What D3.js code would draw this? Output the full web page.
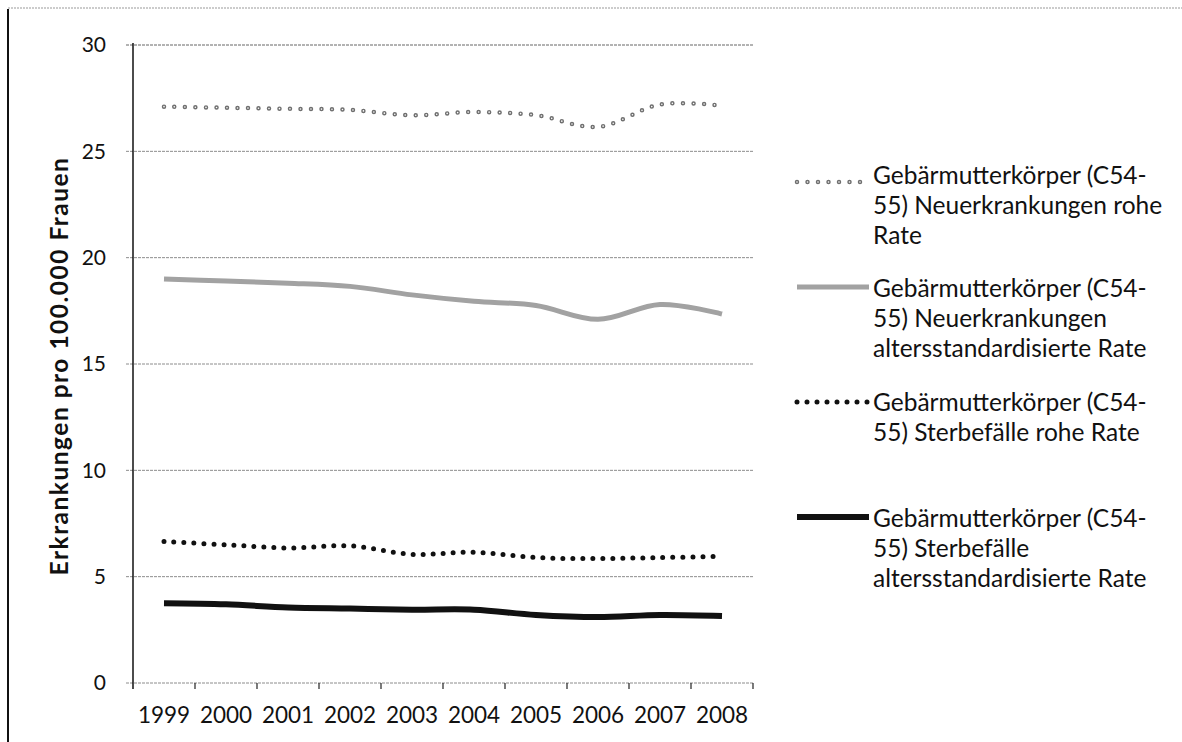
<!DOCTYPE html>
<html>
<head>
<meta charset="utf-8">
<script src="https://cdn.jsdelivr.net/npm/d3@7"></script>
<style>
  html, body { margin: 0; padding: 0; background: #fff; }
  svg { display: block; }
  text { font-family: Lato, "Open Sans", sans-serif; fill: #111; }
</style>
</head>
<body>
<svg id="chart" width="1182" height="742"></svg>
<script>
// Rates per 100,000 women, uterine body cancer (C54-55), 1999–2008
const years = ["1999", "2000", "2001", "2002", "2003", "2004", "2005", "2006", "2007", "2008"];
const neuRoh   = [27.1, 27.05, 27.0, 26.95, 26.7, 26.85, 26.7, 26.15, 27.2, 27.15];
const neuAltst = [19.0, 18.9, 18.8, 18.65, 18.25, 17.95, 17.75, 17.1, 17.8, 17.35];
const sterbRoh = [6.65, 6.5, 6.35, 6.45, 6.05, 6.15, 5.9, 5.85, 5.9, 5.95];
const sterbAltst = [3.75, 3.7, 3.55, 3.5, 3.45, 3.45, 3.2, 3.1, 3.2, 3.15];
const yTicks = [0, 5, 10, 15, 20, 25, 30];
const yTitle = "Erkrankungen pro 100.000 Frauen";
const legendLabels = [
  ["Gebärmutterkörper (C54-", "55) Neuerkrankungen rohe", "Rate"],
  ["Gebärmutterkörper (C54-", "55) Neuerkrankungen", "altersstandardisierte Rate"],
  ["Gebärmutterkörper (C54-", "55) Sterbefälle rohe Rate"],
  ["Gebärmutterkörper (C54-", "55) Sterbefälle", "altersstandardisierte Rate"]
];

const svg = d3.select("#chart");

// frame edges
svg.append("line").attr("x1", 8).attr("x2", 8).attr("y1", 9).attr("y2", 742)
  .attr("stroke", "#111").attr("stroke-width", 2);
svg.append("line").attr("x1", 8).attr("x2", 1182).attr("y1", 8).attr("y2", 8)
  .attr("stroke", "#999").attr("stroke-width", 1).attr("stroke-dasharray", "2 1");

const x = d3.scaleBand().domain(years).range([133, 753]).paddingInner(0).paddingOuter(0);
const y = d3.scaleLinear().domain([0, 30]).range([683, 45]);
const cx = d => x(d) + x.bandwidth() / 2;

// horizontal gridlines
svg.append("g").selectAll("line").data(yTicks).join("line")
  .attr("x1", 126).attr("x2", 753)
  .attr("y1", d => y(d)).attr("y2", d => y(d))
  .attr("stroke", d => d === 30 ? "#666" : "#8c8c8c").attr("stroke-width", 1)
  .attr("stroke-dasharray", "3 1");

// y axis labels
const yAxis = d3.axisLeft(y).tickValues(yTicks).tickSize(0).tickPadding(0);
svg.append("g").attr("transform", "translate(106,0)").call(yAxis)
  .call(g => g.select(".domain").remove())
  .call(g => g.selectAll("text").attr("font-size", 21).attr("fill", "#111")
    .style("font-family", "Lato, sans-serif"));

// y axis line
svg.append("line").attr("x1", 133).attr("x2", 133)
  .attr("y1", y(30) - 2).attr("y2", y(0) + 6)
  .attr("stroke", "#111").attr("stroke-width", 1.5);

// x axis: labels centred in bands, ticks between categories
const xAxis = d3.axisBottom(x).tickSize(0).tickPadding(0);
svg.append("g").attr("transform", `translate(0,${y(0) + 24})`).call(xAxis)
  .call(g => g.select(".domain").remove())
  .call(g => g.selectAll("text").attr("font-size", 22.5).attr("fill", "#111")
    .attr("dy", "0.71em").style("font-family", "Lato, sans-serif"));
svg.append("g").selectAll("line").data(years).join("line")
  .attr("x1", d => x(d) + x.bandwidth()).attr("x2", d => x(d) + x.bandwidth())
  .attr("y1", y(0)).attr("y2", y(0) + 6)
  .attr("stroke", "#222").attr("stroke-width", 1.2);

// y axis title
svg.append("text")
  .attr("transform", `translate(68,${(y(0) + y(30)) / 2 + 2}) rotate(-90)`)
  .attr("text-anchor", "middle")
  .attr("font-size", 24.5).attr("font-weight", "bold")
  .attr("letter-spacing", 1.5)
  .text(yTitle);

// series
const line = d3.line().x((d, i) => cx(years[i])).y(d => y(d))
  .curve(d3.curveCatmullRom.alpha(0));

const styles = [
  { draw: (g, path) => {
      g.append("path").attr("d", path).attr("fill", "none").attr("stroke", "#6f6f6f")
        .attr("stroke-width", 4.5).attr("stroke-linecap", "round").attr("stroke-dasharray", "0 10.5");
      g.append("path").attr("d", path).attr("fill", "none").attr("stroke", "#fff")
        .attr("stroke-width", 1.6).attr("stroke-linecap", "round").attr("stroke-dasharray", "0 10.5");
    } },
  { draw: (g, path) => {
      g.append("path").attr("d", path).attr("fill", "none").attr("stroke", "#a2a2a2")
        .attr("stroke-width", 5).attr("stroke-linejoin", "round");
    } },
  { draw: (g, path) => {
      g.append("path").attr("d", path).attr("fill", "none").attr("stroke", "#111")
        .attr("stroke-width", 5).attr("stroke-linecap", "round").attr("stroke-dasharray", "0 10");
    } },
  { draw: (g, path) => {
      g.append("path").attr("d", path).attr("fill", "none").attr("stroke", "#111")
        .attr("stroke-width", 6).attr("stroke-linejoin", "round");
    } }
];

const series = [neuRoh, neuAltst, sterbRoh, sterbAltst];
series.forEach((vals, i) => {
  const g = svg.append("g");
  styles[i].draw(g, line(vals));
});

// legend: symbol row and first text row per entry
const legendSymbolY = [182, 287, 402, 517];
const legendTextY = [175, 288, 402, 518];
const lineH = 30;
legendLabels.forEach((lines, i) => {
  const g = svg.append("g");
  styles[i].draw(g, d3.line()([[797, legendSymbolY[i]], [869, legendSymbolY[i]]]));
  const t = g.append("text").attr("font-size", 24.5);
  lines.forEach((s, k) => {
    t.append("tspan").attr("x", 873).attr("y", legendTextY[i] + k * lineH)
      .attr("dy", "0.35em").text(s);
  });
});
</script>
</body>
</html>
